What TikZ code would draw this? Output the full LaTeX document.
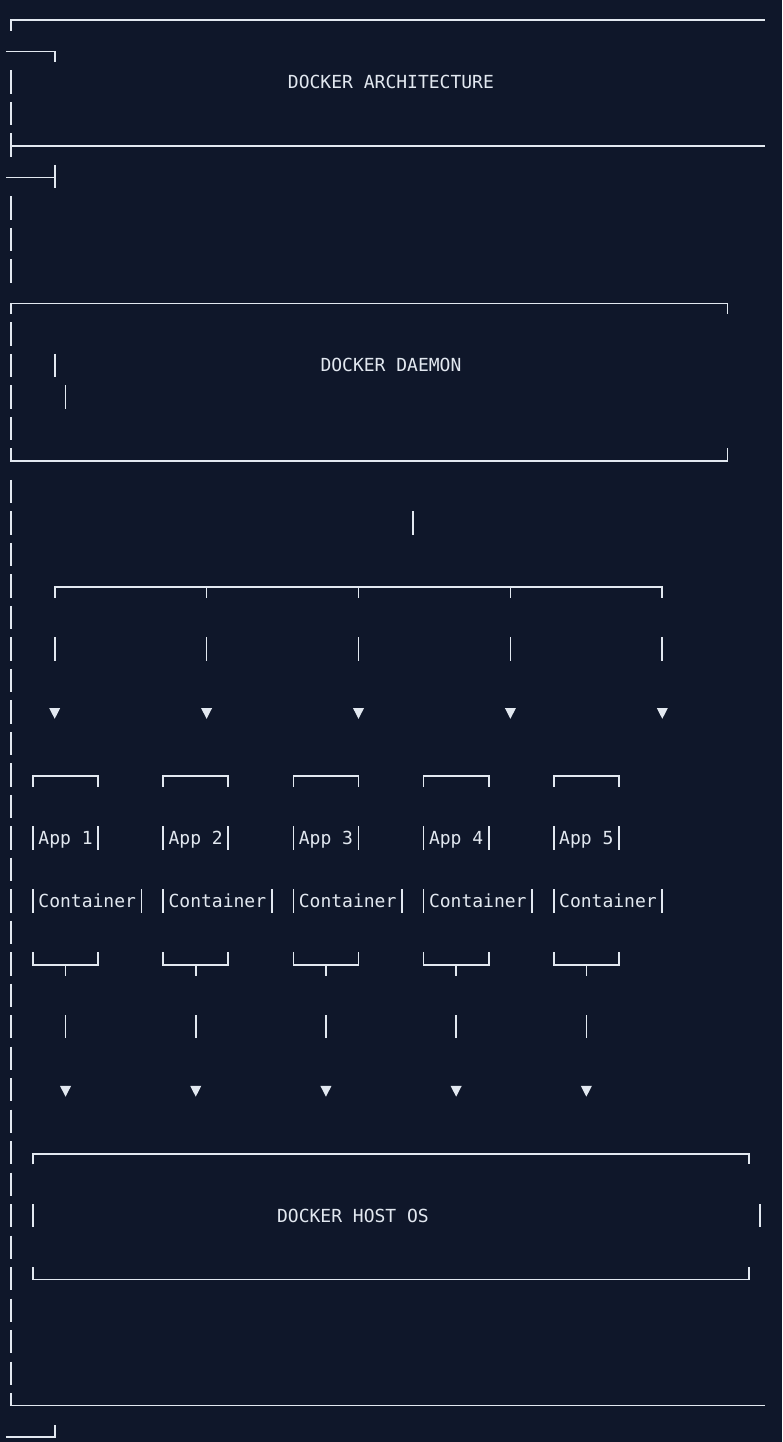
\documentclass[tikz,border=0pt]{standalone}
\usepackage{fontspec}
\newfontfamily\monofnt{DejaVu Sans Mono}
\definecolor{bg}{HTML}{0F172A}
\definecolor{fg}{HTML}{E2E8F0}
\tikzset{
  ln/.style={draw=fg, line width=1.7pt},
  lbl/.style={text=fg, font=\monofnt\fontsize{18}{18}\selectfont, inner sep=0pt, outer sep=0pt, anchor=base west},
  tri/.style={fill=fg, draw=none},
}
% vertical bar glyph in row #1, column #2
\newcommand\VB[2]{\draw[ln] (#2,#1-0.397) -- (#2,#1+0.343);}
% down-pointing triangle glyph in row #1, column #2
\newcommand\TRI[2]{\fill[tri,shift={(#2,#1)}] (-5.5pt,4.7pt) -- (5.5pt,4.7pt) -- (0pt,-6pt) -- cycle;}
\begin{document}
\begin{tikzpicture}
\fill[bg] (0pt,0pt) rectangle (782pt,-1442pt);
\useasboundingbox (0pt,0pt) rectangle (782pt,-1442pt);
\begin{scope}[shift={(11.3pt,-20pt)}, x=10.85pt, y=-31.49pt]
  % outer frame (wrapped)
  \draw[ln] (0,0.343) -- (0,0) -- (69.5,0);
  \draw[ln] (-0.5,1) -- (4,1) -- (4,1.343);
  \node[lbl] (arch) at (25.5,2.175) {DOCKER ARCHITECTURE};
  \draw[ln] (0,4) -- (69.5,4);
  \draw[ln] (-0.5,5) -- (4,5);
  \VB{5}{4}
  \foreach \r in {2,3,4,6,7,8,10,11,12,13,15,16,...,43} {\VB{\r}{0}}
  % daemon box
  \draw[ln] (0,9.343) -- (0,9) -- (66,9) -- (66,9.343);
  \node[lbl] (daemon) at (28.5,11.175) {DOCKER DAEMON};
  \VB{11}{4}
  \VB{12}{5}
  \draw[ln] (0,13.603) -- (0,14) -- (66,14) -- (66,13.603);
  \VB{16}{37}
  % distribution bar
  \draw[ln] (4,18.343) -- (4,18) -- (60,18) -- (60,18.343);
  \foreach \c in {18,32,46} {\draw[ln] (\c,18) -- (\c,18.343);}
  \foreach \c in {4,18,32,46,60} {\VB{20}{\c} \TRI{22}{\c}}
  % containers
  \foreach \s/\k in {2/1,14/2,26/3,38/4,50/5} {
    \draw[ln] (\s,24.343) -- (\s,24) -- (\s+6,24) -- (\s+6,24.343);
    \VB{26}{\s}
    \VB{26}{\s+6}
    \node[lbl] (app\k) at (\s+0.5,26.175) {App \k};
    \VB{28}{\s}
    \VB{28}{\s+10}
    \node[lbl] (cont\k) at (\s+0.5,28.175) {Container};
    \draw[ln] (\s,29.603) -- (\s,30) -- (\s+6,30) -- (\s+6,29.603);
    \draw[ln] (\s+3,30) -- (\s+3,30.343);
    \VB{32}{\s+3}
    \TRI{34}{\s+3}
  }
  % host OS box
  \draw[ln] (2,36.343) -- (2,36) -- (68,36) -- (68,36.343);
  \VB{38}{2}
  \VB{38}{69}
  \node[lbl] (host) at (24.5,38.175) {DOCKER HOST OS};
  \draw[ln] (2,39.603) -- (2,40) -- (68,40) -- (68,39.603);
  % outer frame bottom (wrapped)
  \draw[ln] (0,43.603) -- (0,44) -- (69.5,44);
  \draw[ln] (-0.5,45) -- (4,45) -- (4,44.603);
\end{scope}
\end{tikzpicture}
\end{document}
